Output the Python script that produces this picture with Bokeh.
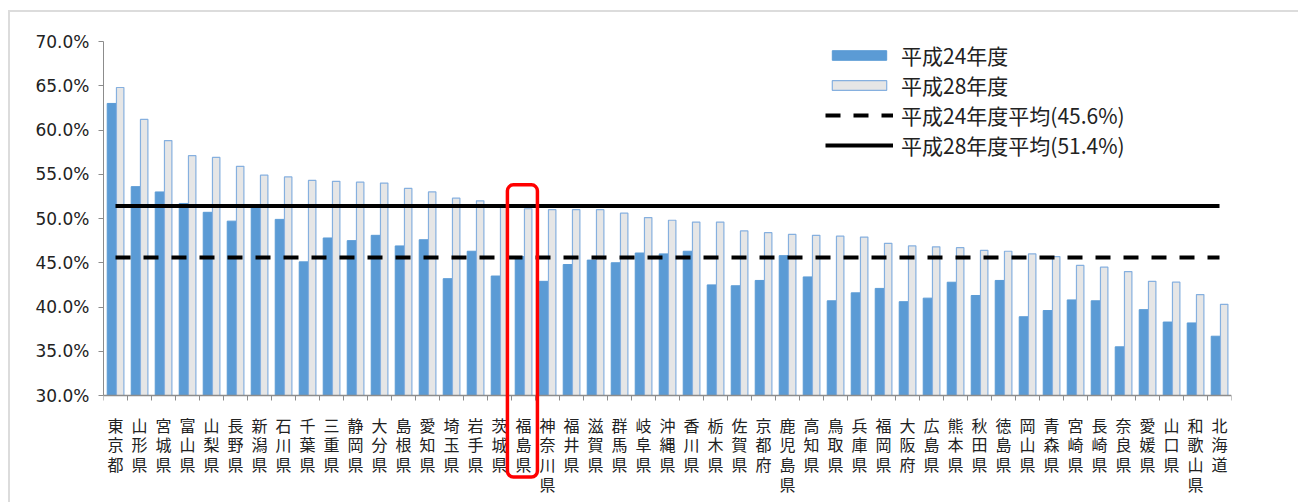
from bokeh.plotting import figure
from bokeh.models import Range1d, FixedTicker, Legend, LegendItem, BoxAnnotation
from bokeh.embed import file_html
from bokeh.resources import INLINE

# Prefectures, sorted by the H28 rate
prefectures = ["東京都", "山形県", "宮城県", "富山県", "山梨県", "長野県", "新潟県", "石川県",
               "千葉県", "三重県", "静岡県", "大分県", "島根県", "愛知県", "埼玉県", "岩手県",
               "茨城県", "福島県", "神奈川県", "福井県", "滋賀県", "群馬県", "岐阜県", "沖縄県",
               "香川県", "栃木県", "佐賀県", "京都府", "鹿児島県", "高知県", "鳥取県", "兵庫県",
               "福岡県", "大阪府", "広島県", "熊本県", "秋田県", "徳島県", "岡山県", "青森県",
               "宮崎県", "長崎県", "奈良県", "愛媛県", "山口県", "和歌山県", "北海道"]

h24 = [63.0, 53.6, 53.0, 51.7, 50.7, 49.7, 51.5, 49.9, 45.1, 47.8, 47.5, 48.1, 46.9, 47.6,
       43.2, 46.3, 43.5, 45.7, 42.9, 44.8, 45.3, 45.0, 46.1, 46.0, 46.3, 42.5, 42.4, 43.0,
       45.8, 43.4, 40.7, 41.6, 42.1, 40.6, 41.0, 42.8, 41.3, 43.0, 38.9, 39.6, 40.8, 40.7,
       35.5, 39.7, 38.3, 38.2, 36.7]

h28 = [64.8, 61.2, 58.8, 57.1, 56.9, 55.9, 54.9, 54.7, 54.3, 54.2, 54.1, 54.0, 53.4, 53.0,
       52.3, 52.0, 51.4, 51.1, 51.0, 51.0, 51.0, 50.6, 50.1, 49.8, 49.6, 49.6, 48.6, 48.4,
       48.2, 48.1, 48.0, 47.9, 47.2, 46.9, 46.8, 46.7, 46.4, 46.3, 46.0, 45.7, 44.7, 44.5,
       44.0, 42.9, 42.8, 41.4, 40.3]

avg24 = 45.6
avg28 = 51.4

series_labels = ["平成24年度", "平成28年度",
                 "平成24年度平均(45.6%)", "平成28年度平均(51.4%)"]

y_ticks = [30, 35, 40, 45, 50, 55, 60, 65, 70]
highlight = "福島県"

FONT = "Noto Sans CJK JP"
n = len(prefectures)
idx = list(range(n))
centers = [i + 0.5 for i in idx]

# the frame reaches below the 30% baseline so the prefecture names and the
# highlight box live inside it; the x axis is pinned to 30%
Y0, Y1 = 30, 70
PX_PER_UNIT = 354 / (Y1 - Y0)
FRAME_H = 454
y_start = Y1 - FRAME_H / PX_PER_UNIT

p = figure(width=1298, height=502, frame_width=1128, frame_height=FRAME_H,
           min_border_left=103, min_border_right=67, min_border_top=41,
           min_border_bottom=502 - 41 - FRAME_H,
           x_range=Range1d(0, n), y_range=Range1d(y_start, Y1),
           output_backend="svg", toolbar_location=None)
p.border_fill_color = None
p.background_fill_color = "white"
p.outline_line_color = None
p.grid.visible = False
p.styles = {
    "background": "linear-gradient(#dcdcdc,#dcdcdc) 8px 10px / 2px 100% no-repeat, "
                  "linear-gradient(#dcdcdc,#dcdcdc) 8px 10px / 100% 2px no-repeat, white"
}

# bars
b24 = p.vbar(x=[i + 0.34 for i in idx], top=h24, bottom=Y0, width=0.37,
             fill_color="#5b9bd5", line_color="#5b9bd5", line_width=1)
b28 = p.vbar(x=[i + 0.695 for i in idx], top=h28, bottom=Y0, width=0.31,
             fill_color="#e6e6e6", line_color="#86b0df", line_width=1.2)

# averages
l24 = p.line(x=centers, y=[avg24] * n, line_color="black", line_width=4,
             line_dash="15 13")
l28 = p.line(x=centers, y=[avg28] * n, line_color="black", line_width=4)

# y axis
ya = p.yaxis[0]
ya.bounds = (Y0, Y1)
ya.ticker = FixedTicker(ticks=y_ticks)
ya.major_label_overrides = {t: f"{t:.1f}%" for t in y_ticks}
ya.major_label_text_font = "DejaVu Sans"
ya.major_label_text_font_size = "17px"
ya.major_label_text_color = "#222222"
ya.axis_line_color = "#8c8c8c"
ya.major_tick_line_color = "#8c8c8c"
ya.major_tick_out = 5
ya.major_tick_in = 0
ya.minor_tick_line_color = None
ya.major_label_standoff = 9

# x axis: names at category centres, minor ticks on the boundaries
xa = p.xaxis[0]
xa.fixed_location = Y0
xa.ticker = FixedTicker(ticks=centers, minor_ticks=list(range(n + 1)))
xa.major_label_overrides = {c: "\n".join(name) for c, name in zip(centers, prefectures)}
xa.major_label_text_font = FONT
xa.major_label_text_font_size = "16px"
xa.major_label_text_color = "#222222"
xa.major_label_text_line_height = 0.83
xa.major_label_orientation = "horizontal"
xa.axis_line_color = "#8c8c8c"
xa.axis_line_width = 1.5
xa.major_tick_line_color = None
xa.major_tick_out = 0
xa.major_tick_in = 0
xa.minor_tick_line_color = "#8c8c8c"
xa.minor_tick_out = 5
xa.minor_tick_in = 0
xa.major_label_standoff = 12

# highlight box around one prefecture, from its bar tops down past its name
k = prefectures.index(highlight)
p.add_layout(BoxAnnotation(left=k - 0.17, right=k + 1.08, top=53.8, bottom=20.8,
                           fill_alpha=0, line_color="#ff0000", line_alpha=1.0,
                           line_width=3.5, border_radius=6, level="overlay"))

legend = Legend(items=[LegendItem(label=series_labels[0], renderers=[b24]),
                       LegendItem(label=series_labels[1], renderers=[b28]),
                       LegendItem(label=series_labels[2], renderers=[l24]),
                       LegendItem(label=series_labels[3], renderers=[l28])],
                location=(722, 335), orientation="vertical")
legend.glyph_width = 68
legend.glyph_height = 12
legend.label_text_font = FONT
legend.label_text_font_size = "21px"
legend.label_text_color = "#222222"
legend.label_text_line_height = 1.0
legend.label_standoff = 8
legend.label_height = 21
legend.spacing = 0
legend.padding = 0
legend.margin = 0
legend.border_line_color = None
legend.background_fill_alpha = 0
p.add_layout(legend)

open("out.html", "w").write(file_html(p, INLINE))
